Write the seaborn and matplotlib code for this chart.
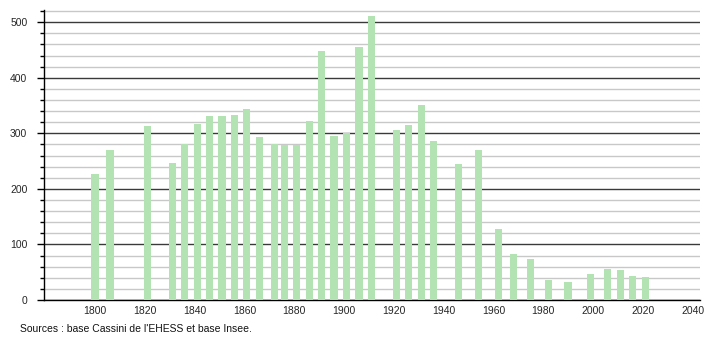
import matplotlib
matplotlib.use("Agg")
import matplotlib.pyplot as plt
from matplotlib.ticker import MultipleLocator
import seaborn as sns
import pandas as pd

years = [1800, 1806, 1821, 1831, 1836, 1841, 1846, 1851, 1856, 1861, 1866,
         1872, 1876, 1881, 1886, 1891, 1896, 1901, 1906, 1911, 1921, 1926,
         1931, 1936, 1946, 1954, 1962, 1968, 1975, 1982, 1990, 1999, 2006,
         2011, 2016, 2021]
population = [227, 270, 313, 246, 280, 316, 331, 331, 333, 344, 293,
              280, 279, 279, 322, 448, 295, 300, 455, 511, 306, 315,
              351, 287, 245, 270, 128, 83, 74, 36, 32, 47, 56,
              54, 43, 41]
x_ticks = [1800, 1820, 1840, 1860, 1880, 1900, 1920, 1940, 1960, 1980, 2000, 2020, 2040]
y_ticks = [0, 100, 200, 300, 400, 500]
source_text = "Sources : base Cassini de l'EHESS et base Insee."

df = pd.DataFrame({"year": years, "pop": population})

sns.set_theme(style="white")
plt.rcParams['font.family'] = ['Liberation Sans', 'DejaVu Sans']

fig = plt.figure(figsize=(7.1, 3.4), dpi=100)
ax = fig.add_axes([44/710, 40/340, (700-44)/710, (300-10)/340])

sns.barplot(data=df, x="year", y="pop", native_scale=True, color="#b3e3b3",
            saturation=1, width=0.72, ax=ax, zorder=3, linewidth=0)

ax.set_xlim(1779.5, 2043)
ax.set_ylim(0, 522)
ax.set_xticks(x_ticks)
ax.set_xticklabels([str(t) for t in x_ticks])
ax.set_yticks(y_ticks)
ax.yaxis.set_minor_locator(MultipleLocator(20))
ax.grid(which="major", axis="y", color="#3a3a3a", linewidth=1.0, zorder=1)
ax.grid(which="minor", axis="y", color="#c8c8c8", linewidth=1.0, zorder=0)
ax.grid(which="major", axis="x", visible=False)
ax.set_axisbelow(True)

for s in ["top", "right"]:
    ax.spines[s].set_visible(False)
for s in ["left", "bottom"]:
    ax.spines[s].set_color("black")
    ax.spines[s].set_linewidth(1.0)

ax.tick_params(axis="y", which="major", length=5, width=1, color="black",
               labelsize=7.5, pad=7, left=True)
ax.tick_params(axis="y", which="minor", length=3, width=1, color="black", left=True)
ax.tick_params(axis="x", which="both", length=0, labelsize=7.5, pad=4)
ax.set_xlabel("")
ax.set_ylabel("")

fig.text(20/710, 1 - 329/340, source_text, fontsize=7.5, va="center", ha="left",
         color="#111111")

fig.savefig("out.png", dpi=100)
